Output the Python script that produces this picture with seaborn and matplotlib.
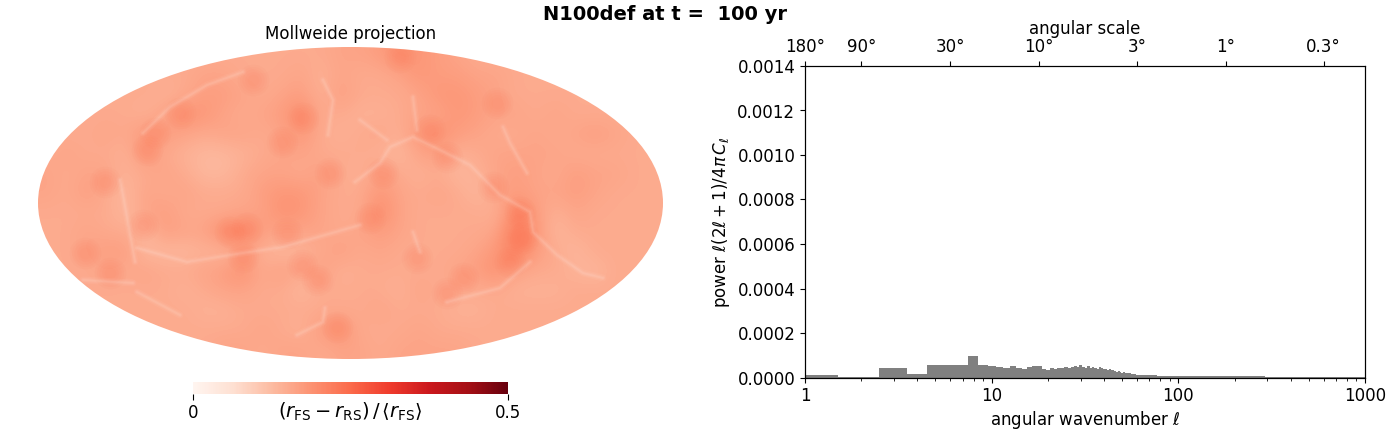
import numpy as np
import matplotlib
matplotlib.use("Agg")
import matplotlib.pyplot as plt
from matplotlib.patches import Ellipse
from matplotlib.ticker import NullFormatter, NullLocator
import seaborn as sns

# shell thickness, in hundredths, coarse grid over the oval
map_rows = [
    [15,15,15,15,15,15,15,15,15,15,15,15,15,15,15,16,16,17,19,18,17,16,15,15,15,15,15,15,15,15,15,15],
    [15,15,15,15,15,15,15,15,16,16,15,15,15,16,14,16,15,15,16,18,17,17,16,16,15,15,15,15,15,15,15,15],
    [15,15,15,15,15,15,14,15,17,17,16,15,16,17,14,17,15,15,15,16,18,18,17,16,15,15,15,15,15,15,15,15],
    [15,15,15,15,15,14,16,19,18,16,15,16,17,20,15,15,14,14,15,16,16,18,17,16,16,15,16,15,15,15,15,15],
    [15,15,15,16,15,18,17,16,15,16,16,15,16,18,15,14,15,16,14,18,19,17,16,15,15,16,15,16,17,16,15,15],
    [15,16,15,15,14,18,15,14,13,13,14,15,16,16,15,15,15,14,13,16,17,14,15,16,16,16,16,15,15,15,15,15],
    [16,15,16,16,14,15,16,15,13,13,15,16,16,15,17,15,14,17,15,14,15,13,14,16,17,16,15,17,16,16,15,15],
    [16,15,17,15,13,16,15,16,15,15,15,17,18,18,16,15,15,18,16,15,16,15,13,16,17,16,16,17,16,15,15,15],
    [15,15,15,15,13,16,17,15,15,15,16,16,19,18,16,15,15,20,16,15,15,15,15,14,21,17,14,16,15,15,15,15],
    [15,15,16,15,15,13,17,16,16,20,20,17,16,16,16,15,16,17,16,15,15,15,15,16,23,18,13,15,15,15,15,15],
    [15,15,16,17,17,13,13,13,14,13,17,14,13,14,15,17,15,16,15,15,15,15,16,18,22,17,15,13,15,15,15,15],
    [15,15,15,16,15,16,15,15,16,17,19,15,17,15,17,14,15,15,15,15,15,16,17,19,16,15,15,14,13,15,15,15],
    [15,15,15,15,15,15,15,14,15,16,16,15,15,13,15,15,15,15,14,16,15,15,15,15,14,14,14,15,15,15,15,15],
    [15,15,15,15,15,15,15,15,14,14,15,15,15,15,15,15,15,16,15,15,15,14,14,15,15,15,15,15,15,15,15,15],
    [15,15,15,15,15,15,15,15,15,15,15,16,15,14,17,19,15,15,15,16,15,15,15,15,15,15,15,15,15,15,15,15],
    [15,15,15,15,15,15,15,15,15,16,16,15,16,16,15,16,16,15,16,16,16,16,15,15,15,15,15,15,15,15,15,15],
]

# compact hot cells and bright filaments, read in picture pixels
hot_x = [180, 155, 147, 303, 282, 253, 105, 330, 430, 497, 383, 447, 493, 400,
         110, 85, 143, 230, 247, 287, 302, 317, 337, 243, 523, 510, 520, 370, 417, 463, 447]
hot_y = [113, 133, 150, 118, 142, 80, 182, 173, 130, 103, 173, 157, 187, 57,
         273, 253, 225, 232, 228, 233, 265, 280, 327, 257, 238, 262, 212, 218, 258, 278, 293]
filaments = [
    ([120, 123, 132, 135], [180, 195, 245, 262]),
    ([83, 133], [280, 283]),
    ([137, 180], [292, 315]),
    ([137, 187, 243, 283, 360], [248, 262, 253, 247, 225]),
    ([325, 323, 297], [308, 322, 335]),
    ([143, 170, 207, 243], [133, 107, 85, 72]),
    ([323, 333, 328], [80, 100, 135]),
    ([355, 380, 390, 413, 440, 470, 500, 530, 533, 557, 583, 603],
     [182, 163, 147, 137, 150, 165, 195, 212, 232, 255, 273, 278]),
    ([503, 510, 527], [127, 143, 173]),
    ([360, 387], [120, 140]),
    ([413, 417], [97, 130]),
    ([447, 500, 530], [302, 288, 262]),
    ([413, 420], [232, 252]),
]

ell_edges = list(np.arange(0.5, 61.5)) + [65.5, 70.5, 76.5, 83.5, 90.5, 100.5, 130.5, 170.5, 230.5, 290.5, 340.5, 388.5, 1000.5]
power_e5 = [
    0.9, 0.3, 4.2, 1.5, 5.5, 5.5, 5.5, 9.6, 5.5, 5.1,
    4.8, 4.4, 5.1, 4.4, 4.0, 4.7, 5.1, 5.1, 4.0, 3.4,
    4.2, 3.9, 4.1, 4.2, 4.9, 4.4, 4.6, 5.3, 4.5, 5.7,
    4.6, 4.2, 5.0, 4.3, 4.8, 4.1, 3.9, 4.8, 4.2, 3.6,
    3.7, 3.5, 3.6, 3.2, 3.4, 3.0, 2.6, 2.9, 2.5, 2.2,
    2.3, 2.1, 2.0, 1.9, 2.0, 1.7, 1.6, 1.7, 1.4, 1.3,
    1.1, 1.0, 0.9, 0.8, 0.7, 0.7, 0.7, 0.65, 0.6, 0.6, 0.4, 0.3, 0.05,
]
scale_ell = [1, 2, 6, 18, 60, 180, 600]
scale_labels = ["180°", "90°", "30°", "10°", "3°", "1°", "0.3°"]
power_ticks = [0, 0.0002, 0.0004, 0.0006, 0.0008, 0.0010, 0.0012, 0.0014]

plt.rcParams["font.size"] = 12

fig = plt.figure(figsize=(14, 4.44), dpi=100)
W, H = 1400, 444

# map panel, data units are picture pixels
ax_map = fig.add_axes([38 / W, 1 - 359 / H, 625 / W, 312 / H])
im = ax_map.imshow(np.array(map_rows) / 100, cmap="Reds", vmin=0, vmax=0.5,
                   extent=(38, 663, 359, 47), interpolation="bicubic", aspect="auto")
oval = Ellipse((350.5, 203), 625, 312, transform=ax_map.transData, fc="none", ec="none")
ax_map.add_patch(oval)
im.set_clip_path(oval)

# soft blobs: several passes over the same cells
for size, alpha in [(520, 0.04), (380, 0.04), (260, 0.04), (150, 0.04), (70, 0.04)]:
    sns.scatterplot(x=hot_x, y=hot_y, s=size, color="#fb6a4a", alpha=alpha, linewidth=0,
                    ax=ax_map, legend=False, clip_path=oval)
for fx, fy in filaments:
    for lw, alpha in [(5, 0.05), (3, 0.07), (1.4, 0.09)]:
        line, = ax_map.plot(fx, fy, color="#fff5f0", lw=lw, alpha=alpha, solid_capstyle="round")
        line.set_clip_path(oval)
ax_map.set_xlim(38, 663)
ax_map.set_ylim(359, 47)
ax_map.axis("off")
ax_map.set_title("Mollweide projection", fontsize=12, pad=6)

ax_cb = fig.add_axes([193 / W, 1 - 394 / H, 315 / W, 12 / H])
cb = fig.colorbar(im, cax=ax_cb, orientation="horizontal")
cb.outline.set_visible(False)
cb.set_ticks([0, 0.5], labels=["0", "0.5"])
ax_cb.tick_params(length=4, width=0.8, labelsize=12, pad=3)
ax_cb.set_xlabel(r"$(r_{\rm FS} - r_{\rm RS})\,/\,\langle r_{\rm FS}\rangle$", fontsize=14, labelpad=-15)

# spectrum panel
ax = fig.add_axes([805 / W, 1 - 377.5 / H, 560 / W, 311.5 / H])
edges = np.array(ell_edges)
centers = (edges[:-1] + edges[1:]) / 2
sns.histplot(x=centers, weights=np.array(power_e5) * 1e-5, bins=list(np.log10(edges)),
             log_scale=True, color="gray", alpha=1, linewidth=0, ax=ax, legend=False)
ax.set_xlim(1, 1000)
ax.set_ylim(0, 0.0014)
ax.set_xticks([1, 10, 100, 1000], labels=["1", "10", "100", "1000"])
ax.xaxis.set_minor_formatter(NullFormatter())
ax.set_yticks(power_ticks, labels=[f"{t:.4f}" for t in power_ticks])
ax.set_xlabel(r"angular wavenumber $\ell$", labelpad=3)
ax.set_ylabel(r"power $\ell(2\ell+1)/4\pi\,C_\ell$", labelpad=4)

top = ax.twiny()
top.set_xscale("log")
top.set_xlim(1, 1000)
top.set_xticks(scale_ell, labels=scale_labels)
top.xaxis.set_minor_locator(NullLocator())
top.set_xlabel("angular scale", labelpad=3)

fig.text(665 / W, 1 - 14 / H, "N100def at t =  100 yr", fontsize=14, fontweight="bold",
         ha="center", va="center")

fig.savefig("out.png", dpi=100)
